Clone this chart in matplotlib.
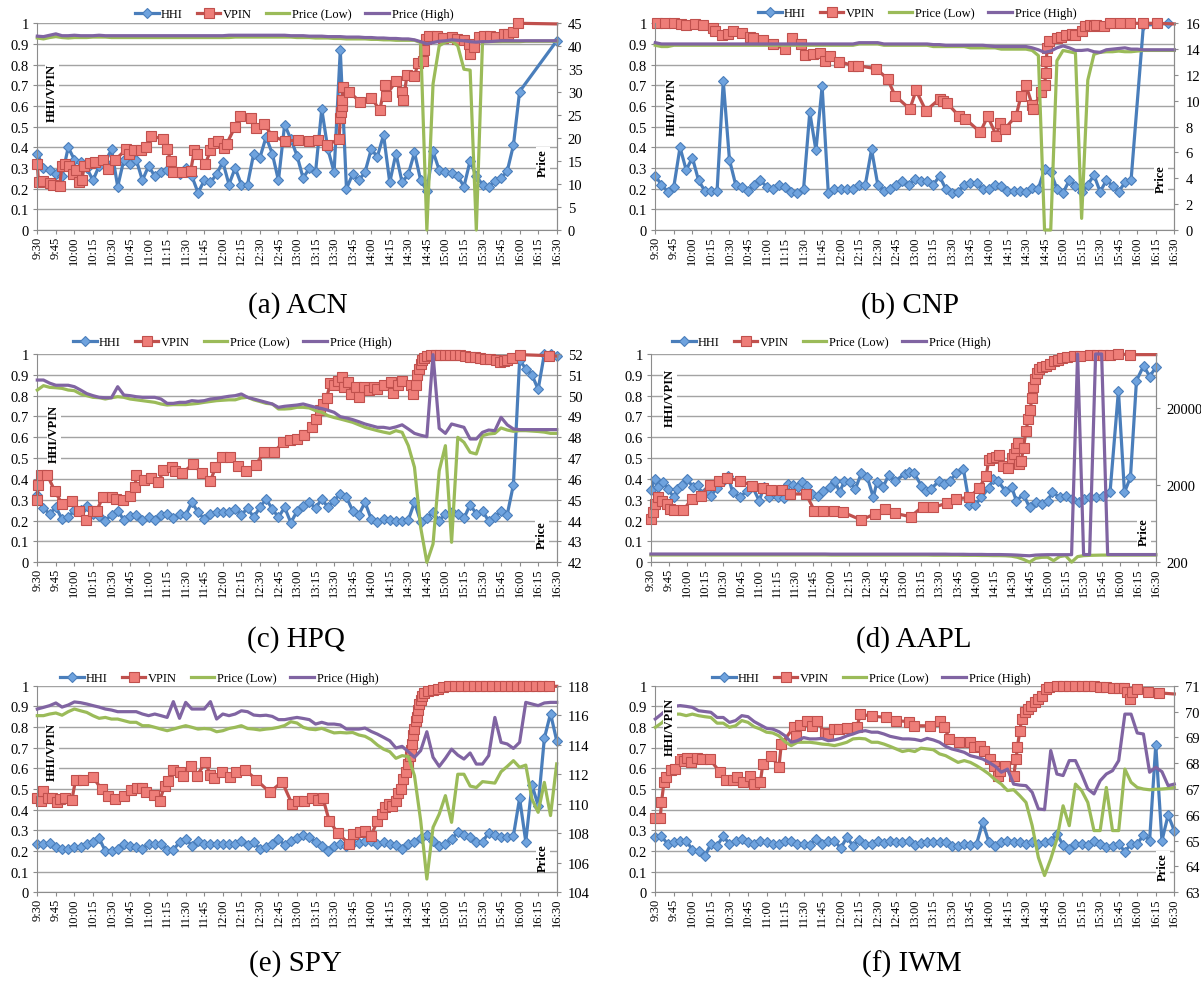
import matplotlib
matplotlib.use("Agg")
import matplotlib.pyplot as plt
from matplotlib.ticker import NullLocator

plt.rcParams["font.family"] = ["Liberation Serif", "DejaVu Serif"]

W, H = 1201, 987

# x axis: minutes after 9:30
tick_labels = ["9:30", "9:45", "10:00", "10:15", "10:30", "10:45", "11:00", "11:15",
               "11:30", "11:45", "12:00", "12:15", "12:30", "12:45", "13:00", "13:15",
               "13:30", "13:45", "14:00", "14:15", "14:30", "14:45", "15:00", "15:15",
               "15:30", "15:45", "16:00", "16:15", "16:30"]
tick_t = list(range(0, 421, 15))
grid_t = list(range(0, 421, 5))

# ---------------- ACN ----------------
acn_hhi_t = list(range(0, 395, 5)) + [420]
acn_hhi = [0.37, 0.30, 0.29, 0.27, 0.26, 0.40, 0.34, 0.33, 0.30, 0.24,
           0.31, 0.33, 0.39, 0.21, 0.34, 0.32, 0.34, 0.24, 0.31, 0.26,
           0.28, 0.29, 0.28, 0.27, 0.30, 0.26, 0.18, 0.24, 0.23, 0.27,
           0.33, 0.22, 0.30, 0.22, 0.22, 0.37, 0.35, 0.45, 0.37, 0.24,
           0.51, 0.44, 0.36, 0.25, 0.30, 0.28, 0.585, 0.39, 0.28, 0.87,
           0.20, 0.27, 0.24, 0.28, 0.39, 0.355, 0.46, 0.23, 0.37, 0.23,
           0.27, 0.375, 0.24, 0.19, 0.38, 0.29, 0.28, 0.275, 0.26, 0.21,
           0.335, 0.26, 0.22, 0.21, 0.235, 0.25, 0.285, 0.41, 0.67,
           0.915]
acn_vpin = [(0, 0.32), (1, 0.23), (5, 0.235), (10, 0.225), (13, 0.22), (18, 0.215),
            (20, 0.31), (22, 0.32), (26, 0.31), (29, 0.27), (31, 0.29), (34, 0.23),
            (36, 0.24), (38, 0.31), (43, 0.325), (47, 0.33), (53, 0.34), (57, 0.295),
            (63, 0.34), (72, 0.39), (74, 0.37), (78, 0.385), (84, 0.385), (88, 0.40),
            (92, 0.455), (102, 0.44), (105, 0.39), (108, 0.335), (110, 0.28), (117, 0.28),
            (124, 0.285), (127, 0.385), (129, 0.37), (136, 0.32), (140, 0.385), (142, 0.42),
            (146, 0.43), (151, 0.395), (153, 0.415), (160, 0.50), (164, 0.55), (173, 0.54),
            (177, 0.495), (183, 0.515), (190, 0.455), (200, 0.43), (211, 0.435), (220, 0.43),
            (227, 0.435), (234, 0.41), (244, 0.44), (245, 0.54), (245.5, 0.57), (246, 0.60),
            (246.5, 0.63), (247, 0.69), (252, 0.67), (261, 0.62), (270, 0.64), (277, 0.58),
            (281, 0.70), (282, 0.65), (290, 0.72), (295, 0.67), (296, 0.63), (299, 0.75),
            (305, 0.745), (308, 0.81), (312, 0.82), (313, 0.87), (314, 0.925), (317, 0.94),
            (323, 0.937), (328, 0.93), (335, 0.935), (339, 0.925), (345, 0.92), (349, 0.90),
            (350, 0.85), (353, 0.885), (357, 0.935), (361, 0.94), (366, 0.94), (371, 0.935),
            (377, 0.95), (381, 0.95), (385, 0.96), (389, 1.0), (420, 0.997)]
acn_low = [41.8, 41.6, 41.9, 42.1, 41.9, 41.8, 41.9, 41.9, 41.9, 42.0,
           42.0, 42.0, 41.9, 41.9, 41.9, 41.9, 41.9, 41.9, 41.9, 41.9,
           41.9, 41.9, 41.9, 41.9, 41.9, 41.9, 41.9, 41.9, 41.9, 41.9,
           41.9, 41.9, 42.0, 42.0, 42.0, 42.0, 42.0, 42.0, 42.0, 42.0,
           42.0, 42.0, 41.9, 41.9, 41.9, 41.8, 41.8, 41.8, 41.7, 41.7,
           41.6, 41.6, 41.6, 41.6, 41.5, 41.5, 41.4, 41.4, 41.3, 41.3,
           41.3, 41.3, 40.8, 0.0, 31.8, 40.1, 40.9, 41.2, 40.1, 35.0,
           34.8, 0.0, 40.9, 41.0, 41.0, 41.0, 41.0, 41.0, 41.0, 41.1,
           41.1, 41.1, 41.1, 41.1, 41.1]
acn_high = [42.2, 42.1, 42.4, 42.7, 42.3, 42.3, 42.4, 42.3, 42.3, 42.3,
            42.4, 42.3, 42.3, 42.3, 42.3, 42.3, 42.3, 42.3, 42.3, 42.3,
            42.3, 42.3, 42.3, 42.3, 42.3, 42.3, 42.3, 42.3, 42.3, 42.3,
            42.3, 42.4, 42.4, 42.4, 42.4, 42.4, 42.4, 42.4, 42.4, 42.4,
            42.4, 42.3, 42.3, 42.3, 42.2, 42.2, 42.2, 42.1, 42.1, 42.1,
            42.0, 42.0, 42.0, 41.9, 41.9, 41.8, 41.8, 41.7, 41.7, 41.6,
            41.6, 41.4, 41.0, 40.5, 40.8, 41.1, 41.2, 41.4, 41.3, 41.2,
            41.0, 40.9, 41.0, 41.0, 41.1, 41.2, 41.2, 41.2, 41.2, 41.2,
            41.2, 41.2, 41.2, 41.2, 41.2]

# ---------------- CNP ----------------
cnp_hhi_t = list(range(0, 390, 5)) + [395, 415]
cnp_hhi = [0.26, 0.22, 0.185, 0.21, 0.40, 0.29, 0.35, 0.24, 0.19, 0.19,
           0.19, 0.72, 0.34, 0.22, 0.21, 0.19, 0.22, 0.24, 0.21, 0.20,
           0.22, 0.21, 0.185, 0.18, 0.20, 0.57, 0.385, 0.695, 0.18, 0.20,
           0.20, 0.20, 0.20, 0.22, 0.22, 0.39, 0.22, 0.19, 0.20, 0.22,
           0.235, 0.22, 0.245, 0.235, 0.235, 0.22, 0.26, 0.20, 0.18, 0.185,
           0.22, 0.225, 0.225, 0.20, 0.20, 0.22, 0.215, 0.19, 0.19, 0.19,
           0.185, 0.205, 0.20, 0.295, 0.28, 0.20, 0.18, 0.24, 0.215, 0.185,
           0.22, 0.265, 0.185, 0.24, 0.215, 0.185, 0.23, 0.24,
           0.99, 1.0]
cnp_vpin = [(1, 1.0), (8, 1.0), (15, 1.0), (21, 0.997), (25, 0.992), (32, 0.997),
            (39, 0.99), (47, 0.975), (48, 0.965), (54, 0.945), (59, 0.95), (63, 0.965),
            (70, 0.955), (77, 0.935), (79, 0.93), (87, 0.92), (95, 0.90), (105, 0.875),
            (111, 0.93), (118, 0.90), (121, 0.845), (128, 0.85), (133, 0.855), (137, 0.82),
            (141, 0.84), (149, 0.815), (160, 0.795), (164, 0.795), (179, 0.78), (188, 0.73),
            (194, 0.65), (206, 0.585), (211, 0.675), (219, 0.577), (230, 0.634), (233, 0.626),
            (236, 0.615), (246, 0.55), (251, 0.537), (263, 0.473), (269, 0.55), (276, 0.456),
            (279, 0.52), (283, 0.49), (292, 0.553), (296, 0.65), (300, 0.70), (305, 0.605),
            (306, 0.585), (312, 0.67), (315, 0.70), (316, 0.76), (316.5, 0.82), (317, 0.88),
            (319, 0.915), (325, 0.927), (328, 0.935), (332, 0.943), (337, 0.95), (340, 0.945),
            (345, 0.965), (348, 0.985), (352, 0.99), (355, 0.985), (357, 0.99), (363, 0.988),
            (368, 1.0), (376, 1.0), (384, 1.0), (395, 1.0), (406, 1.0), (420, 0.997)]
cnp_low = [14.3, 14.2, 14.2, 14.3, 14.3, 14.3, 14.3, 14.3, 14.3, 14.3,
           14.3, 14.3, 14.3, 14.3, 14.3, 14.3, 14.3, 14.3, 14.3, 14.3,
           14.3, 14.3, 14.3, 14.3, 14.3, 14.3, 14.3, 14.3, 14.3, 14.3,
           14.3, 14.3, 14.3, 14.4, 14.4, 14.4, 14.4, 14.3, 14.3, 14.3,
           14.3, 14.3, 14.3, 14.3, 14.3, 14.2, 14.2, 14.2, 14.2, 14.2,
           14.2, 14.1, 14.1, 14.1, 14.1, 14.1, 14.0, 14.0, 14.0, 14.0,
           14.0, 13.9, 13.5, 0.0, 0.0, 13.1, 13.9, 13.8, 13.7, 0.9,
           11.6, 13.6, 13.75, 13.8, 13.8, 13.85, 13.8, 13.8, 13.85, 13.9,
           13.9, 13.9, 13.9, 13.9, 13.9]
cnp_high = [14.5, 14.4, 14.4, 14.4, 14.4, 14.4, 14.4, 14.4, 14.4, 14.4,
            14.4, 14.4, 14.4, 14.4, 14.4, 14.4, 14.4, 14.4, 14.4, 14.4,
            14.4, 14.4, 14.4, 14.4, 14.4, 14.4, 14.4, 14.4, 14.4, 14.4,
            14.4, 14.4, 14.4, 14.5, 14.5, 14.5, 14.5, 14.4, 14.4, 14.4,
            14.4, 14.4, 14.4, 14.4, 14.4, 14.35, 14.35, 14.3, 14.3, 14.3,
            14.3, 14.3, 14.3, 14.3, 14.25, 14.2, 14.2, 14.2, 14.2, 14.2,
            14.2, 14.1, 13.95, 13.75, 13.85, 14.1, 14.25, 14.1, 13.9, 13.9,
            13.95, 13.8, 13.75, 13.95, 14.0, 14.05, 14.1, 14.0, 14.0, 13.95,
            13.95, 13.95, 13.95, 13.95, 13.95]

# ---------------- HPQ ----------------
hpq_hhi_t = list(range(0, 421, 5))
hpq_hhi = [0.325, 0.26, 0.232, 0.264, 0.208, 0.216, 0.25, 0.25, 0.272, 0.232,
           0.224, 0.20, 0.229, 0.248, 0.203, 0.224, 0.227, 0.203, 0.216, 0.203,
           0.227, 0.232, 0.211, 0.23, 0.228, 0.288, 0.24, 0.208, 0.232, 0.24,
           0.243, 0.243, 0.256, 0.227, 0.26, 0.216, 0.264, 0.304, 0.256, 0.216,
           0.264, 0.19, 0.245, 0.272, 0.288, 0.26, 0.304, 0.264, 0.296, 0.328,
           0.312, 0.248, 0.229, 0.288, 0.208, 0.192, 0.208, 0.203, 0.20, 0.197,
           0.203, 0.288, 0.195, 0.213, 0.24, 0.20, 0.232, 0.243, 0.232, 0.211,
           0.277, 0.232, 0.248, 0.197, 0.216, 0.248, 0.229, 0.373, 0.97, 0.93,
           0.90, 0.83, 1.0, 1.0, 0.99]
hpq_vpin = [(0, 0.30), (0.5, 0.37), (3, 0.42), (8, 0.42), (14, 0.344), (20, 0.28),
            (28, 0.296), (34, 0.248), (39, 0.203), (45, 0.245), (48, 0.248), (53, 0.312),
            (60, 0.312), (64, 0.304), (69, 0.30), (75, 0.32), (79, 0.36), (80, 0.42),
            (86, 0.395), (92, 0.405), (98, 0.384), (102, 0.443), (109, 0.456), (111, 0.437),
            (117, 0.427), (126, 0.472), (133, 0.427), (140, 0.389), (144, 0.456), (149, 0.504),
            (156, 0.507), (162, 0.464), (169, 0.437), (177, 0.469), (183, 0.528), (191, 0.528),
            (199, 0.576), (204, 0.587), (210, 0.59), (216, 0.61), (222, 0.65), (225, 0.69),
            (229, 0.73), (231, 0.76), (234, 0.79), (237, 0.86), (240, 0.85), (243, 0.87),
            (246, 0.89), (248, 0.84), (251, 0.865), (254, 0.81), (258, 0.84), (260, 0.795),
            (264, 0.84), (268, 0.825), (272, 0.84), (275, 0.83), (280, 0.85), (286, 0.865),
            (288, 0.815), (292, 0.85), (295, 0.87), (302, 0.85), (304, 0.81), (306, 0.85),
            (307, 0.90), (308.5, 0.93), (310, 0.95), (311, 0.97), (313, 0.98), (315, 0.99),
            (318, 0.997), (322, 0.997), (326, 0.996), (330, 0.996), (334, 0.995), (338, 0.995),
            (342, 0.993), (346, 0.99), (350, 0.987), (354, 0.984), (358, 0.981), (362, 0.978),
            (366, 0.976), (371, 0.971), (374, 0.963), (377, 0.968), (380, 0.971), (384, 0.981),
            (390, 0.997), (414, 0.992), (420, 0.99)]
hpq_low = [50.27, 50.48, 50.4, 50.38, 50.35, 50.27, 50.24, 50.08, 50.0, 49.92,
           49.9, 49.84, 49.9, 49.95, 49.92, 49.84, 49.8, 49.76, 49.72, 49.68,
           49.6, 49.55, 49.57, 49.57, 49.57, 49.6, 49.63, 49.68, 49.72, 49.76,
           49.78, 49.8, 49.8, 49.89, 49.92, 49.8, 49.72, 49.63, 49.6, 49.36,
           49.36, 49.38, 49.44, 49.44, 49.41, 49.28, 49.2, 49.04, 48.95, 48.88,
           48.8, 48.72, 48.6, 48.48, 48.4, 48.32, 48.25, 48.19, 48.32, 48.24,
           47.6, 46.56, 43.68, 42.0, 42.88, 46.4, 47.6, 42.96, 48.0, 47.76,
           47.28, 47.2, 48.08, 48.16, 48.19, 48.45, 48.35, 48.29, 48.32, 48.32,
           48.3, 48.28, 48.25, 48.19, 48.19]
hpq_high = [50.75, 50.75, 50.6, 50.5, 50.5, 50.5, 50.43, 50.27, 50.1, 50.0,
            49.92, 49.9, 49.9, 50.43, 50.03, 50.0, 49.95, 49.92, 49.92, 49.92,
            49.84, 49.63, 49.63, 49.68, 49.68, 49.76, 49.73, 49.76, 49.84, 49.87,
            49.92, 49.97, 50.0, 50.08, 49.92, 49.84, 49.76, 49.68, 49.6, 49.44,
            49.49, 49.52, 49.55, 49.6, 49.52, 49.44, 49.38, 49.3, 49.2, 48.99,
            48.93, 48.85, 48.75, 48.64, 48.56, 48.48, 48.48, 48.43, 48.5, 48.6,
            48.4, 48.19, 48.1, 48.03, 51.97, 48.43, 48.19, 48.64, 48.56, 48.48,
            47.92, 47.92, 48.24, 48.35, 48.32, 48.96, 48.6, 48.4, 48.37, 48.37,
            48.37, 48.37, 48.37, 48.37, 48.37]

# ---------------- AAPL ----------------
aapl_hhi = [(0, 0.347), (3, 0.40), (6, 0.36), (10, 0.384), (14, 0.352), (19, 0.312),
            (22, 0.352), (26, 0.373), (30, 0.40), (35, 0.36), (39, 0.373), (42, 0.328),
            (46, 0.344), (50, 0.32), (55, 0.357), (60, 0.392), (64, 0.416), (68, 0.336),
            (74, 0.312), (80, 0.344), (84, 0.368), (90, 0.296), (94, 0.36), (98, 0.312),
            (102, 0.331), (106, 0.312), (111, 0.309), (114, 0.376), (118, 0.373), (122, 0.36),
            (126, 0.384), (130, 0.368), (134, 0.328), (139, 0.32), (143, 0.344), (149, 0.36),
            (153, 0.392), (157, 0.336), (161, 0.392), (166, 0.384), (170, 0.352), (175, 0.427),
            (180, 0.408), (185, 0.312), (188, 0.384), (193, 0.36), (198, 0.421), (203, 0.389),
            (211, 0.424), (215, 0.432), (219, 0.427), (225, 0.368), (229, 0.344), (233, 0.352),
            (240, 0.392), (244, 0.376), (249, 0.392), (254, 0.427), (260, 0.448), (265, 0.277),
            (270, 0.277), (275, 0.312), (281, 0.357), (285, 0.40), (289, 0.389), (295, 0.341),
            (300, 0.363), (304, 0.296), (310, 0.325), (315, 0.264), (320, 0.288), (325, 0.28),
            (330, 0.296), (334, 0.336), (340, 0.312), (345, 0.32), (350, 0.304), (356, 0.288),
            (360, 0.304), (365, 0.312), (370, 0.312), (376, 0.32), (382, 0.336), (389, 0.824),
            (394, 0.336), (399, 0.408), (404, 0.872), (410, 0.944), (415, 0.891), (420, 0.936)]
aapl_vpin = [(0, 0.208), (2, 0.24), (3, 0.28), (6, 0.312), (9, 0.296), (13, 0.28),
             (16, 0.256), (19, 0.251), (27, 0.251), (34, 0.304), (42, 0.32), (49, 0.373),
             (57, 0.392), (63, 0.405), (74, 0.392), (84, 0.368), (93, 0.357), (100, 0.347),
             (109, 0.347), (116, 0.328), (129, 0.328), (136, 0.248), (143, 0.248), (152, 0.248),
             (160, 0.24), (175, 0.203), (186, 0.232), (195, 0.256), (203, 0.235), (216, 0.219),
             (226, 0.267), (235, 0.264), (246, 0.283), (254, 0.304), (265, 0.312), (273, 0.357),
             (279, 0.416), (281, 0.49), (284, 0.50), (287, 0.505), (290, 0.515), (293, 0.46),
             (297, 0.455), (300, 0.50), (302, 0.52), (304, 0.55), (305, 0.575), (306, 0.47),
             (308, 0.485), (310, 0.55), (312, 0.63), (314, 0.69), (315.5, 0.73), (317, 0.79),
             (318, 0.84), (319.5, 0.88), (321, 0.91), (323, 0.93), (325, 0.936), (329, 0.944),
             (332, 0.952), (335, 0.965), (339, 0.971), (342, 0.981), (346, 0.987), (352, 0.992),
             (357, 0.992), (365, 0.995), (371, 0.995), (376, 0.997), (382, 0.997), (389, 1.0),
             (399, 0.997), (420, 0.997)]
aapl_low = [249, 249, 249, 249, 249, 249, 249, 249, 249, 249,
            249, 249, 249, 249, 249, 249, 249, 249, 249, 249,
            249, 249, 249, 249, 249, 249, 249, 249, 249, 249,
            248, 248, 248, 248, 248, 248, 248, 248, 248, 248,
            248, 248, 248, 248, 248, 248, 248, 247, 247, 247,
            247, 247, 246, 246, 246, 245, 245, 244, 244, 243,
            240, 232, 218, 201, 225, 232, 233, 210, 237, 244,
            201, 237, 244, 246, 247, 248, 248, 248, 248, 248,
            248, 248, 248, 248, 248]
aapl_high = [256, 256, 256, 256, 256, 256, 256, 256, 256, 256,
             256, 256, 256, 256, 256, 256, 256, 256, 256, 256,
             256, 256, 256, 256, 256, 256, 256, 256, 256, 256,
             255, 255, 255, 255, 255, 255, 255, 255, 255, 255,
             255, 255, 255, 255, 255, 255, 255, 255, 255, 255,
             254, 254, 254, 253, 253, 253, 252, 252, 252, 251,
             250, 248, 245, 243, 248, 250, 251, 251, 251, 251,
             251, 100000, 252, 252, 100000, 100000, 252, 252, 252, 252,
             252, 252, 252, 252, 252]

# ---------------- SPY ----------------
spy_hhi_t = list(range(0, 421, 5))
spy_hhi = [0.234, 0.234, 0.239, 0.218, 0.21, 0.21, 0.218, 0.218, 0.234, 0.245,
           0.261, 0.20, 0.20, 0.21, 0.234, 0.226, 0.218, 0.21, 0.234, 0.234,
           0.234, 0.206, 0.206, 0.242, 0.258, 0.226, 0.25, 0.234, 0.234, 0.234,
           0.234, 0.234, 0.234, 0.25, 0.229, 0.242, 0.21, 0.218, 0.234, 0.258,
           0.229, 0.25, 0.265, 0.277, 0.266, 0.242, 0.226, 0.20, 0.226, 0.234,
           0.226, 0.239, 0.239, 0.25, 0.25, 0.234, 0.242, 0.234, 0.229, 0.21,
           0.234, 0.242, 0.261, 0.277, 0.25, 0.226, 0.234, 0.258, 0.29, 0.277,
           0.266, 0.242, 0.245, 0.287, 0.277, 0.266, 0.266, 0.274, 0.455, 0.245,
           0.52, 0.42, 0.745, 0.865, 0.734]
spy_vpin = [(0, 0.455), (3, 0.444), (5, 0.492), (9, 0.455), (12, 0.455), (16, 0.435),
            (18, 0.45), (22, 0.455), (28, 0.448), (31, 0.545), (37, 0.545), (45, 0.556),
            (52, 0.50), (57, 0.468), (63, 0.452), (70, 0.468), (76, 0.497), (81, 0.503),
            (85, 0.503), (88, 0.487), (94, 0.471), (99, 0.444), (103, 0.516), (106, 0.54),
            (110, 0.594), (115, 0.58), (118, 0.565), (124, 0.61), (129, 0.565), (136, 0.629),
            (140, 0.568), (143, 0.555), (149, 0.58), (156, 0.556), (161, 0.58), (168, 0.594),
            (177, 0.545), (188, 0.484), (198, 0.535), (206, 0.427), (211, 0.444), (216, 0.44),
            (222, 0.455), (227, 0.448), (231, 0.455), (236, 0.347), (243, 0.287), (252, 0.234),
            (255, 0.282), (261, 0.294), (265, 0.298), (270, 0.274), (275, 0.347), (279, 0.379),
            (281, 0.411), (284, 0.427), (287, 0.419), (290, 0.444), (292, 0.48), (294, 0.50),
            (296, 0.55), (298, 0.58), (300, 0.62), (301, 0.66), (302, 0.69), (303, 0.72),
            (304, 0.76), (305, 0.79), (306, 0.83), (307, 0.85), (308, 0.88), (309, 0.91),
            (310, 0.93), (311, 0.95), (313, 0.965), (316, 0.972), (320, 0.98), (324, 0.985),
            (328, 0.992), (333, 0.997), (338, 0.997), (343, 0.997), (348, 0.997), (353, 0.997),
            (358, 0.997), (363, 0.997), (368, 0.997), (373, 0.997), (378, 0.997), (383, 0.997),
            (388, 0.997), (393, 0.997), (398, 0.997), (403, 0.997), (408, 0.997), (414, 0.997),
            (420, 0.997)]
spy_low = [115.97, 115.97, 116.08, 116.15, 116.0, 116.24, 116.42, 116.3, 116.19, 115.97,
           115.79, 115.85, 115.74, 115.74, 115.63, 115.52, 115.52, 115.29, 115.29, 115.18,
           115.06, 114.95, 115.06, 115.18, 115.29, 115.18, 115.06, 115.1, 115.06, 114.88,
           114.95, 115.1, 115.18, 115.29, 115.1, 115.06, 115.0, 115.06, 115.1, 115.18,
           115.3, 115.56, 115.47, 115.18, 115.06, 115.02, 115.11, 114.95, 114.8, 114.83,
           114.8, 114.83, 114.66, 114.57, 114.34, 113.98, 113.7, 113.53, 113.08, 113.26,
           113.2, 111.9, 108.86, 104.9, 108.4, 109.3, 110.55, 108.74, 112.0, 112.0,
           111.2, 111.1, 111.5, 111.45, 111.4, 112.17, 112.53, 112.92, 112.47, 112.62,
           110.32, 109.42, 111.45, 109.2, 112.7]
spy_high = [116.42, 116.53, 116.65, 116.83, 116.55, 116.69, 116.9, 116.85, 116.76, 116.65,
            116.55, 116.42, 116.35, 116.24, 116.24, 116.24, 116.24, 116.08, 115.97, 116.08,
            115.97, 115.85, 116.92, 115.79, 116.87, 116.42, 116.42, 116.42, 116.92, 115.74,
            116.08, 115.97, 116.08, 116.3, 116.24, 116.01, 115.97, 116.0, 115.92, 115.7,
            115.7, 115.78, 115.85, 115.78, 115.7, 115.4, 115.52, 115.4, 115.4, 115.34,
            115.06, 115.06, 115.06, 115.13, 114.9, 114.72, 114.5, 114.27, 113.78, 113.89,
            113.53, 113.15, 113.6, 114.88, 113.15, 112.53, 113.08, 113.7, 113.3, 113.03,
            113.44, 112.69, 112.69, 113.26, 115.85, 114.16, 114.05, 113.75, 114.16, 116.87,
            116.76, 116.65, 116.83, 116.87, 116.87]

# ---------------- IWM ----------------
iwm_hhi_t = list(range(0, 421, 5))
iwm_hhi = [0.266, 0.271, 0.234, 0.245, 0.25, 0.25, 0.206, 0.20, 0.174, 0.234,
           0.226, 0.271, 0.234, 0.25, 0.258, 0.245, 0.234, 0.25, 0.242, 0.234,
           0.234, 0.25, 0.25, 0.234, 0.234, 0.229, 0.258, 0.234, 0.25, 0.25,
           0.213, 0.266, 0.226, 0.255, 0.234, 0.234, 0.25, 0.239, 0.25, 0.245,
           0.242, 0.25, 0.229, 0.239, 0.242, 0.242, 0.242, 0.242, 0.226, 0.223,
           0.234, 0.229, 0.234, 0.339, 0.242, 0.226, 0.242, 0.25, 0.245, 0.245,
           0.234, 0.242, 0.234, 0.242, 0.25, 0.282, 0.229, 0.21, 0.234, 0.234,
           0.229, 0.25, 0.234, 0.218, 0.226, 0.234, 0.197, 0.234, 0.234, 0.277,
           0.25, 0.713, 0.25, 0.374, 0.298]
iwm_vpin = [(0, 0.358), (4, 0.358), (5, 0.435), (7, 0.532), (9, 0.556), (13, 0.594),
            (16, 0.597), (20, 0.645), (23, 0.637), (26, 0.648), (29, 0.632), (34, 0.648),
            (38, 0.645), (44, 0.645), (52, 0.584), (57, 0.545), (63, 0.545), (66, 0.556),
            (71, 0.532), (77, 0.561), (80, 0.524), (85, 0.532), (87, 0.621), (94, 0.661),
            (100, 0.605), (102, 0.718), (112, 0.798), (114, 0.758), (117, 0.81), (123, 0.831),
            (127, 0.806), (131, 0.831), (137, 0.771), (140, 0.766), (145, 0.79), (149, 0.79),
            (155, 0.794), (163, 0.798), (166, 0.863), (175, 0.852), (187, 0.847), (195, 0.831),
            (205, 0.826), (209, 0.806), (222, 0.806), (230, 0.831), (234, 0.798), (238, 0.742),
            (246, 0.726), (255, 0.729), (258, 0.702), (263, 0.71), (266, 0.685), (271, 0.645),
            (274, 0.613), (277, 0.565), (279, 0.589), (283, 0.613), (290, 0.565), (292, 0.645),
            (293, 0.702), (295, 0.782), (296.5, 0.839), (299, 0.871), (302, 0.887), (304, 0.903),
            (307, 0.919), (310, 0.935), (313, 0.952), (316, 0.984), (319, 0.992), (325, 1.0),
            (330, 0.997), (335, 1.0), (340, 0.997), (345, 1.0), (350, 0.997), (355, 0.997),
            (360, 0.995), (365, 0.992), (370, 0.99), (375, 0.987), (379, 0.987), (382, 0.97),
            (384, 0.935), (386, 0.968), (390, 0.984), (399, 0.968), (408, 0.965), (420, 0.96)]
iwm_low = [69.39, 69.55, 69.77, 69.9, 69.9, 69.84, 69.9, 69.84, 69.8, 69.77,
           69.55, 69.55, 69.39, 69.45, 69.65, 69.58, 69.41, 69.32, 69.2, 69.17,
           69.06, 68.83, 68.68, 68.81, 68.81, 68.81, 68.78, 68.74, 68.72, 68.68,
           68.74, 68.81, 68.94, 68.96, 68.94, 68.81, 68.81, 68.74, 68.65, 68.55,
           68.45, 68.5, 68.45, 68.58, 68.55, 68.52, 68.36, 68.29, 68.16, 68.03,
           68.1, 68.03, 67.9, 67.75, 67.58, 67.36, 67.19, 66.94, 66.97, 66.74,
           66.48, 65.58, 64.35, 63.65, 64.29, 65.06, 66.35, 65.58, 67.19, 66.94,
           66.48, 65.39, 65.39, 67.06, 65.39, 65.39, 67.77, 67.26, 67.06, 67.0,
           66.97, 66.99, 67.0, 67.02, 67.06]
iwm_high = [69.71, 69.9, 70.1, 70.2, 70.23, 70.2, 70.16, 70.03, 70.0, 69.97,
            69.77, 69.77, 69.58, 69.65, 69.84, 69.8, 69.61, 69.48, 69.35, 69.32,
            69.22, 69.06, 68.81, 68.87, 68.99, 68.94, 68.94, 68.96, 68.87, 68.9,
            68.96, 69.06, 69.13, 69.22, 69.26, 69.2, 69.2, 69.13, 69.04, 68.99,
            68.94, 68.94, 68.92, 68.87, 68.96, 68.9, 68.81, 68.65, 68.55, 68.49,
            68.42, 68.29, 68.23, 68.16, 68.03, 67.88, 67.65, 67.77, 67.19, 67.15,
            67.13, 66.87, 66.23, 66.2, 68.49, 67.58, 67.52, 68.1, 68.1, 67.58,
            67.0, 66.81, 67.32, 67.58, 67.71, 68.1, 69.9, 69.9, 69.17, 69.13,
            67.65, 67.84, 67.67, 67.13, 67.19]

BLUE, BLUE_F = "#4A7EBB", "#6FA3DE"
RED, RED_F = "#C0504D", "#EE7D78"
GREEN, PURPLE = "#9BBB59", "#8064A2"
GRID, AXIS = "#A3A3A3", "#8C8C8C"


def fx(x):
    return x / W


def fy(y):
    return 1 - y / H


fig = plt.figure(figsize=(W / 100, H / 100), dpi=100)


def draw_panel(caption, box, hhi_t, hhi, vpin, low, high, plim, pticks, log,
               leg_xy, cap_xy, lab_xy, plab_xy):
    left, right, top, bottom = box
    ax = fig.add_axes([fx(left), fy(bottom), (right - left) / W, (bottom - top) / H])
    ax.set_xlim(0, 420)
    ax.set_ylim(0, 1)
    ax.set_yticks([i / 10 for i in range(11)])
    ax.set_yticklabels(["0", "0.1", "0.2", "0.3", "0.4", "0.5", "0.6", "0.7", "0.8", "0.9", "1"])
    ax.set_xticks(tick_t)
    ax.set_xticklabels(tick_labels, rotation=90, fontsize=9)
    ax.yaxis.grid(True, color=GRID, lw=1.0)
    ax.set_axisbelow(True)
    ax.spines["top"].set_visible(False)
    for s in ["left", "bottom", "right"]:
        ax.spines[s].set_color(AXIS)
    ax.tick_params(axis="y", labelsize=10.5, length=3, color=AXIS, pad=3)
    ax.tick_params(axis="x", length=3, color=AXIS, pad=1)

    h1, = ax.plot(hhi_t, hhi, color=BLUE, lw=2.3, marker="D", ms=5.5,
                  mfc=BLUE_F, mec=BLUE, mew=0.8, clip_on=False)
    vt = [p[0] for p in vpin]
    vv = [p[1] for p in vpin]
    h2, = ax.plot(vt, vv, color=RED, lw=2.3, marker="s", ms=7.5, mfc=RED_F,
                  mec=RED, mew=0.8, markevery=list(range(len(vt) - 1)), clip_on=False)

    ax2 = ax.twinx()
    if log:
        ax2.set_yscale("log")
    h3, = ax2.plot(grid_t, low, color=GREEN, lw=2.3, clip_on=False)
    h4, = ax2.plot(grid_t, high, color=PURPLE, lw=2.3, clip_on=False)
    ax2.set_ylim(*plim)
    ax2.set_yticks(pticks)
    ax2.set_yticklabels([str(p) for p in pticks])
    ax2.yaxis.set_minor_locator(NullLocator())
    for s in ["top", "left", "bottom"]:
        ax2.spines[s].set_visible(False)
    ax2.spines["right"].set_color(AXIS)
    ax2.tick_params(axis="y", labelsize=10.5, length=3, color=AXIS, pad=5)

    fig.legend([h1, h2, h3, h4], ["HHI", "VPIN", "Price (Low)", "Price (High)"],
               loc="center", bbox_to_anchor=(fx(leg_xy[0]), fy(leg_xy[1])), ncol=4,
               frameon=False, fontsize=9, handlelength=1.9, handletextpad=0.2,
               columnspacing=1.1, borderpad=0, borderaxespad=0)
    fig.text(fx(cap_xy[0]), fy(cap_xy[1]), caption, ha="center", va="center", fontsize=21)
    fig.text(fx(lab_xy[0]), fy(lab_xy[1]), "HHI/VPIN", rotation=90, ha="center",
             va="center", fontsize=9, fontweight="bold",
             bbox=dict(facecolor="white", edgecolor="none", pad=1))
    fig.text(fx(plab_xy[0]), fy(plab_xy[1]), "Price", rotation=90, ha="center",
             va="center", fontsize=9, fontweight="bold",
             bbox=dict(facecolor="white", edgecolor="none", pad=1))


draw_panel("(a) ACN", (37.3, 556.7, 24.3, 231), acn_hhi_t, acn_hhi, acn_vpin,
           acn_low, acn_high, (0, 45), list(range(0, 46, 5)), False,
           (294, 15), (298, 306), (52, 93), (543, 163))
draw_panel("(b) CNP", (655.3, 1174.3, 24.3, 231), cnp_hhi_t, cnp_hhi, cnp_vpin,
           cnp_low, cnp_high, (0, 16), list(range(0, 17, 2)), False,
           (917, 14), (910, 306), (672, 107), (1161, 179))
draw_panel("(c) HPQ", (37.3, 556.7, 355, 563.3), hpq_hhi_t, hpq_hhi, hpq_vpin,
           hpq_low, hpq_high, (42, 52), list(range(42, 53)), False,
           (232, 343), (296, 640), (54, 434), (542, 535))
draw_panel("(d) AAPL", (651, 1155.7, 355, 563.3), [p[0] for p in aapl_hhi],
           [p[1] for p in aapl_hhi], aapl_vpin, aapl_low, aapl_high,
           (200, 100000), [200, 2000, 20000], True,
           (831, 343), (914, 640), (670, 398), (1144, 532))
draw_panel("(e) SPY", (37.3, 556.7, 686.7, 893.3), spy_hhi_t, spy_hhi, spy_vpin,
           spy_low, spy_high, (104, 118), list(range(104, 119, 2)), False,
           (219, 679), (295, 964), (52, 752), (543, 858))
draw_panel("(f) IWM", (655.3, 1174.3, 686.7, 893.3), iwm_hhi_t, iwm_hhi, iwm_vpin,
           iwm_low, iwm_high, (63, 71), list(range(63, 72)), False,
           (871, 679), (912, 964), (670, 727), (1163, 867))

fig.savefig("out.png", dpi=100)
